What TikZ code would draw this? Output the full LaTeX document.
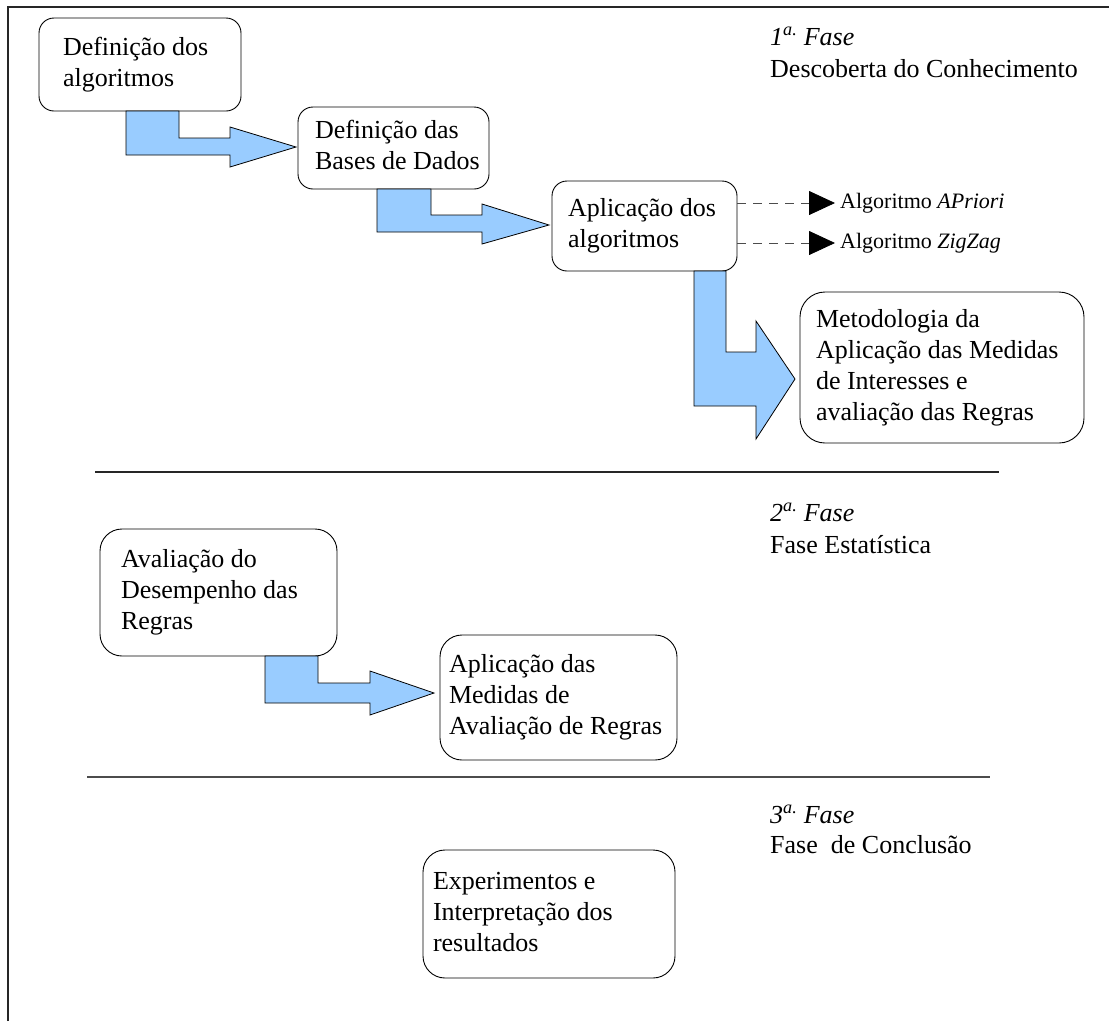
\documentclass[tikz,border=0pt]{standalone}
\usepackage{fontspec}
\setmainfont{Liberation Serif}
\usetikzlibrary{arrows.meta}
\definecolor{flowblue}{RGB}{153,204,255}
% left-aligned block of lines set in a box of fixed width
\newcommand\boxlines[2]{\makebox[#1][l]{\begin{tabular}{@{}l@{}}#2\end{tabular}}}
\begin{document}
\begin{tikzpicture}[x=1pt,y=-1pt,
  box/.style={draw=black, fill=white, line width=0.9pt, rounded corners=#1,
    anchor=north west, inner ysep=0pt, outer sep=0pt,
    font=\fontsize{26}{31}\selectfont},
  box/.default=15pt,
  flowarrow/.style={draw=black, fill=flowblue, line width=0.8pt, line join=miter},
  phase/.style={anchor=base west, inner sep=0pt, font=\fontsize{26}{31}\selectfont},
  rule/.style={draw=black!85, line width=1.1pt},
  alglabel/.style={anchor=west, inner sep=0pt, font=\fontsize{22}{26}\selectfont},
  dashlink/.style={draw=black!70, line width=0.8pt, dash pattern=on 9pt off 7pt,
    -{Triangle[length=26pt,width=24pt,color=black]}}
]
\useasboundingbox (0,0) rectangle (1109,1021);

% frame and phase separators
\draw[rule] (8,1021) -- (8,7) -- (1109,7);
\draw[rule] (95,472) -- (999,472);
\draw[rule, draw=black!70, line width=1.3pt] (87,777) -- (990,777);

% phase 1
\node[box, minimum height=93pt, inner xsep=24pt] (b1) at (39,18)
  {\boxlines{154pt}{Definição dos\\algoritmos}};
\node[box, minimum height=82pt, inner xsep=17pt] (b2) at (298,107)
  {\boxlines{157pt}{Definição das\\Bases de Dados}};
\node[box, minimum height=90pt, inner xsep=16pt] (b3) at (552,181)
  {\boxlines{153pt}{Aplicação dos\\algoritmos}};
\node[box=25pt, minimum height=151pt, inner xsep=16pt] (b4) at (800,292)
  {\boxlines{252pt}{Metodologia da\\Aplicação das Medidas\\de Interesses e\\avaliação das Regras}};

\coordinate (t1) at (296,147);
\coordinate (t2) at (549,225);
\coordinate (t3) at (795,379);

\draw[flowarrow] (126,0 |- b1.south) -- (126,155) -- (230,155) -- (230,167)
  -- (t1) -- (230,127) -- (230,138) -- (179,138) -- (179,0 |- b1.south) -- cycle;
\draw[flowarrow] (377,0 |- b2.south) -- (377,232) -- (482,232) -- (482,244)
  -- (t2) -- (482,204) -- (482,215) -- (431,215) -- (431,0 |- b2.south) -- cycle;
\draw[flowarrow] (694,0 |- b3.south) -- (694,406) -- (756,406) -- (756,439)
  -- (t3) -- (756,321) -- (756,352) -- (726,352) -- (726,0 |- b3.south) -- cycle;

\node[alglabel] (alg1) at (840,203) {Algoritmo \textit{APriori}};
\node[alglabel] (alg2) at (840,243) {Algoritmo \textit{ZigZag}};
\draw[dashlink] (b3.east |- alg1.west) -- ([xshift=-5pt]alg1.west);
\draw[dashlink] (b3.east |- alg2.west) -- ([xshift=-5pt]alg2.west);

\node[phase] (p1) at (770,45) {\textit{1\textsuperscript{a.} Fase}};
\node[phase] (p1t) at (770,77) {Descoberta do Conhecimento};

% phase 2
\node[box=22pt, minimum height=127pt, inner xsep=21pt] (b5) at (100,529)
  {\boxlines{195pt}{Avaliação do\\Desempenho das\\Regras}};
\node[box=22pt, minimum height=125pt, inner xsep=9pt] (b6) at (440,635)
  {\boxlines{219pt}{Aplicação das\\Medidas de\\Avaliação de Regras}};

\coordinate (t4) at (434,693);
\draw[flowarrow] (265,0 |- b5.south) -- (265,703) -- (370,703) -- (370,715)
  -- (t4) -- (370,671) -- (370,683) -- (318,683) -- (318,0 |- b5.south) -- cycle;

\node[phase] (p2) at (770,521) {\textit{2\textsuperscript{a.} Fase}};
\node[phase] (p2t) at (770,553) {Fase Estatística};

% phase 3
\node[box=22pt, minimum height=128pt, inner xsep=10pt] (b7) at (423,850)
  {\boxlines{232pt}{Experimentos e\\Interpretação dos\\resultados}};

\node[phase] (p3) at (770,823) {\textit{3\textsuperscript{a.} Fase}};
\node[phase] (p3t) at (770,853) {Fase\ \ de Conclusão};
\end{tikzpicture}
\end{document}
